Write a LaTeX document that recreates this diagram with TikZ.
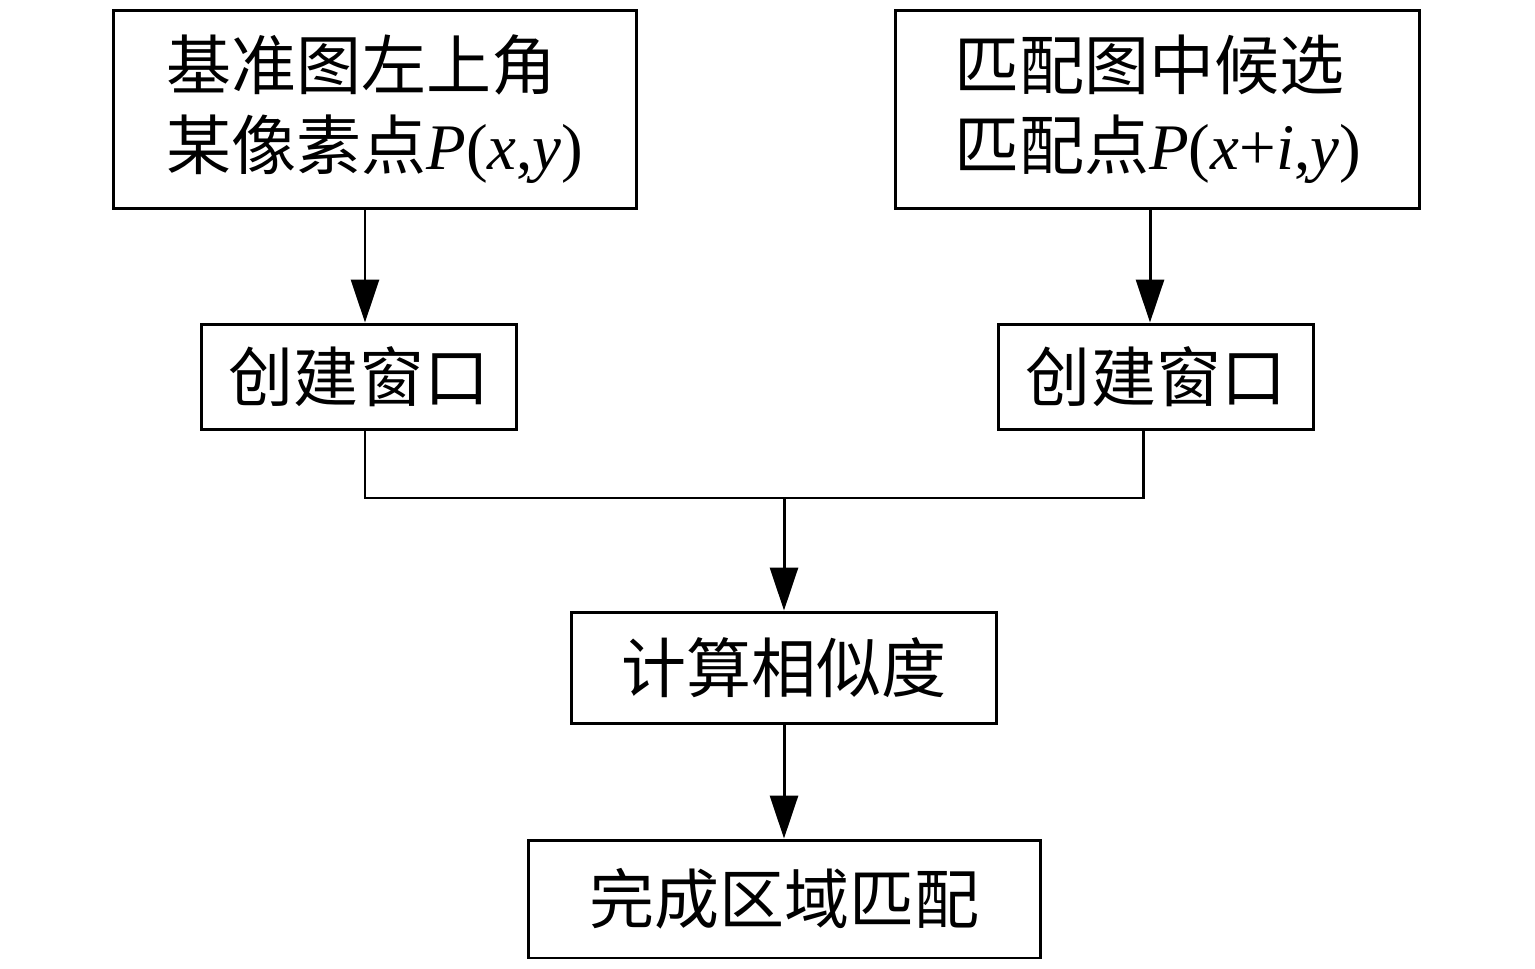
\documentclass[tikz,border=0pt]{standalone}
\usepackage{fontspec}
\setmainfont{Liberation Serif}
\newfontfamily\cjk{Noto Sans CJK SC}
\usepackage{tikz}
\usetikzlibrary{positioning, calc, arrows.meta}

\begin{document}
\begin{tikzpicture}[x=0.02cm, y=-0.02cm,
    box/.style={draw, line width=1.7pt, inner sep=0pt, font=\fontsize{37}{45.5}\selectfont},
    arr/.style={line width=1.7pt, -{Triangle[width=0.56cm, length=0.86cm]}},
    link/.style={line width=1.7pt}]
      \useasboundingbox (0,0) rectangle (1535,969);

      % Start points
      \node[box, minimum width=10.48cm, minimum height=3.98cm, align=left] (ref) at (375,109.5)
        {{\cjk 基准图左上角}\\{\cjk 某像素点}\textit{P}(\textit{x},\textit{y})};
      \node[box, minimum width=10.5cm, minimum height=3.98cm, align=left] (cand) at (1157.5,109.5)
        {{\cjk 匹配图中候选}\\{\cjk 匹配点}\textit{P}(\textit{x}+\textit{i},\textit{y})};

      % Windows
      \node[box, minimum width=6.32cm, minimum height=2.12cm] (winL) at (359,377) {\cjk 创建窗口};
      \node[box, minimum width=6.32cm, minimum height=2.12cm] (winR) at (1156,377) {\cjk 创建窗口};

      % Similarity and result
      \node[box, minimum width=8.52cm, minimum height=2.24cm] (sim) at (784,668) {\cjk 计算相似度};
      \node[box, minimum width=10.26cm, minimum height=2.36cm] (done) at (784.5,899) {\cjk 完成区域匹配};

      % Arrows into the windows
      \draw[arr] ([xshift=0.12cm]winL.north |- ref.south) -- ([xshift=0.12cm]winL.north);
      \draw[arr] ([xshift=-0.12cm]winR.north |- cand.south) -- ([xshift=-0.12cm]winR.north);

      % Joining both windows
      \coordinate (join) at (784,498);
      \draw[link] ([xshift=0.12cm]winL.south) -- ([xshift=0.12cm]winL.south |- join)
        -- ([xshift=-0.26cm]winR.south |- join) -- ([xshift=-0.26cm]winR.south);
      \draw[arr] (join) -- (join |- sim.north);
      \draw[arr] (sim.south) -- (sim.south |- done.north);
    \end{tikzpicture}
\end{document}
